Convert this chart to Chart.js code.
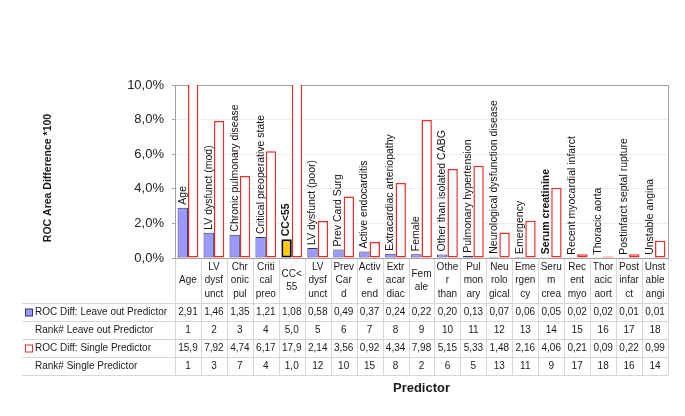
<!DOCTYPE html>
<html>
<head>
<meta charset="utf-8">
<script src="https://cdn.jsdelivr.net/npm/chart.js@4.4.1/dist/chart.umd.min.js"></script>
<style>
  body { margin: 0; background: #fff; }
  #wrap { width: 685px; height: 416px; }
</style>
</head>
<body>
<div id="wrap"><canvas id="rocChart" width="685" height="416"></canvas></div>
<script>
// predictor names (shown vertically above the bars)
const predictors = [
  "Age", "LV dysfunct (mod)", "Chronic pulmonary disease", "Critical preoperative state",
  "CC<55", "LV dysfunct (poor)", "Prev Card Surg", "Active endocarditis",
  "Extracardiac arteriopathy", "Female", "Other than isolated CABG", "Pulmonary hypertension",
  "Neurological dysfunction disease", "Emergency", "Serum creatinine",
  "Recent myocardial infarct", "Thoracic aorta", "Postinfarct septal rupture", "Unstable angina"
];
// truncated names in the table header
const shortLabels = [
  ["Age"], ["LV", "dysf", "unct"], ["Chr", "onic", "pul"], ["Criti", "cal", "preo"],
  ["CC<", "55"], ["LV", "dysf", "unct"], ["Prev", "Car", "d"], ["Activ", "e", "end"],
  ["Extr", "acar", "diac"], ["Fem", "ale"], ["Othe", "r", "than"], ["Pul", "mon", "ary"],
  ["Neu", "rolo", "gical"], ["Eme", "rgen", "cy"], ["Seru", "m", "crea"], ["Rec", "ent", "myo"],
  ["Thor", "acic", "aort"], ["Post", "infar", "ct"], ["Unst", "able", "angi"]
];
const leaveOut = [2.91, 1.46, 1.35, 1.21, 1.08, 0.58, 0.49, 0.37, 0.24, 0.22, 0.20, 0.13, 0.07, 0.06, 0.05, 0.02, 0.02, 0.01, 0.01];
const leaveOutRank = ["1", "2", "3", "4", "5,0", "5", "6", "7", "8", "9", "10", "11", "12", "13", "14", "15", "16", "17", "18"];
const single = [15.9, 7.92, 4.74, 6.17, 17.9, 2.14, 3.56, 0.92, 4.34, 7.98, 5.15, 5.33, 1.48, 2.16, 4.06, 0.21, 0.09, 0.22, 0.99];
const singleRank = ["1", "3", "7", "4", "1,0", "12", "10", "15", "8", "2", "6", "5", "13", "11", "9", "17", "18", "16", "14"];
const boldIdx = [4, 14];

const FONT = "'Liberation Sans', Arial, sans-serif";
const fmt = (v) => (v >= 10 ? v.toFixed(1) : v.toFixed(2)).replace(".", ",");

const tablePlugin = {
  id: "rocTable",
  beforeDatasetsDraw(chart) {
    const { ctx, chartArea: a } = chart;
    ctx.save();
    ctx.strokeStyle = "#a0a0a0";
    ctx.lineWidth = 1;
    ctx.beginPath();
    ctx.moveTo(a.left, a.top + 0.5);
    ctx.lineTo(a.right + 0.5, a.top + 0.5);
    ctx.lineTo(a.right + 0.5, a.bottom + 0.5);
    ctx.lineTo(a.left, a.bottom + 0.5);
    ctx.stroke();
    ctx.restore();
  },
  afterDatasetsDraw(chart) {
    const { ctx, chartArea: a } = chart;
    const n = predictors.length;
    const colW = (a.right - a.left) / n;
    const meta = chart.getDatasetMeta(0);
    ctx.save();

    // vertical names above the blue bars
    ctx.fillStyle = "#111";
    ctx.textAlign = "left";
    ctx.textBaseline = "middle";
    meta.data.forEach((bar, i) => {
      ctx.save();
      ctx.translate(bar.x, bar.y - 3);
      ctx.rotate(-Math.PI / 2);
      ctx.font = (boldIdx.includes(i) ? "bold " : "") + "10.5px " + FONT;
      ctx.fillText(predictors[i], 0, 0);
      ctx.restore();
    });

    // table grid
    const headTop = a.bottom;
    const rowTops = [303, 321, 339, 357, 375];
    const tableLeft = 22;
    ctx.strokeStyle = "#d6d6d6";
    ctx.lineWidth = 1;
    ctx.beginPath();
    for (let i = 0; i <= n; i++) {
      const x = Math.round(a.left + i * colW) + 0.5;
      ctx.moveTo(x, headTop + 1);
      ctx.lineTo(x, rowTops[4]);
    }
    rowTops.forEach((y) => {
      ctx.moveTo(tableLeft, y + 0.5);
      ctx.lineTo(a.right + 0.5, y + 0.5);
    });
    ctx.stroke();

    // header labels
    ctx.fillStyle = "#1a1a1a";
    ctx.font = "10px " + FONT;
    ctx.textAlign = "center";
    ctx.textBaseline = "middle";
    const headMid = (headTop + rowTops[0]) / 2;
    shortLabels.forEach((lines, i) => {
      const cx = a.left + (i + 0.5) * colW;
      const start = headMid - ((lines.length - 1) * 13.5) / 2;
      lines.forEach((t, k) => ctx.fillText(t, cx, start + k * 13.5));
    });

    // rows
    const rows = [
      { label: "ROC Diff: Leave out Predictor", vals: leaveOut.map(fmt), marker: "blue" },
      { label: "Rank# Leave out Predictor", vals: leaveOutRank },
      { label: "ROC Diff: Single Predictor", vals: single.map(fmt), marker: "red" },
      { label: "Rank# Single Predictor", vals: singleRank }
    ];
    rows.forEach((r, k) => {
      const cy = (rowTops[k] + rowTops[k + 1]) / 2 + 0.5;
      ctx.textAlign = "left";
      ctx.fillStyle = "#1a1a1a";
      ctx.fillText(r.label, 35, cy);
      if (r.marker) {
        ctx.fillStyle = r.marker === "blue" ? "#9999ff" : "#ffffff";
        ctx.strokeStyle = r.marker === "blue" ? "#333366" : "#ee2a2a";
        ctx.fillRect(25.5, cy - 3.5, 7, 7);
        ctx.strokeRect(25.5, cy - 3.5, 7, 7);
        ctx.fillStyle = "#1a1a1a";
      }
      ctx.textAlign = "center";
      r.vals.forEach((v, i) => ctx.fillText(v, a.left + (i + 0.5) * colW, cy));
    });

    // axis titles
    ctx.font = "bold 13px " + FONT;
    ctx.fillText("Predictor", (a.left + a.right) / 2, 388);
    ctx.save();
    ctx.translate(48, 178);
    ctx.rotate(-Math.PI / 2);
    ctx.font = "bold 10.5px " + FONT;
    ctx.fillText("ROC Area Difference *100", 0, 0);
    ctx.restore();

    ctx.restore();
  }
};

const ctx = document.getElementById("rocChart");
new Chart(ctx, {
  type: "bar",
  data: {
    labels: predictors,
    datasets: [
      {
        label: "ROC Diff: Leave out Predictor",
        data: leaveOut,
        backgroundColor: leaveOut.map((v, i) => (i === 4 ? "#ffcc00" : "#9999ff")),
        borderColor: leaveOut.map((v, i) => (i === 4 ? "#000000" : "#333366")),
        borderWidth: leaveOut.map((v, i) => (i === 4 ? 2 : 1)),
        borderSkipped: false,
        categoryPercentage: 0.8,
        barPercentage: 1.0,
        clip: 0
      },
      {
        label: "ROC Diff: Single Predictor",
        data: single,
        backgroundColor: "#ffffff",
        borderColor: "#ee2a2a",
        borderWidth: 1.5,
        borderSkipped: false,
        categoryPercentage: 0.8,
        barPercentage: 1.0,
        clip: 0
      }
    ]
  },
  options: {
    responsive: false,
    animation: false,
    layout: { padding: { left: 0, top: 85, right: 17, bottom: 158 } },
    plugins: {
      legend: { display: false },
      tooltip: { enabled: false }
    },
    scales: {
      x: { display: false },
      y: {
        min: 0,
        max: 10,
        afterFit: (scale) => { scale.width = 175; },
        ticks: {
          stepSize: 2,
          padding: 8,
          color: "#222",
          font: { size: 13, family: FONT },
          callback: (v) => v.toFixed(1).replace(".", ",") + "%"
        },
        grid: {
          color: (c) => (c.tick && c.tick.value === 10 ? "#a0a0a0" : "#eeeeee"),
          tickColor: "#a0a0a0",
          tickLength: 3
        },
        border: { color: "#a0a0a0" }
      }
    }
  },
  plugins: [tablePlugin]
});
</script>
</body>
</html>
